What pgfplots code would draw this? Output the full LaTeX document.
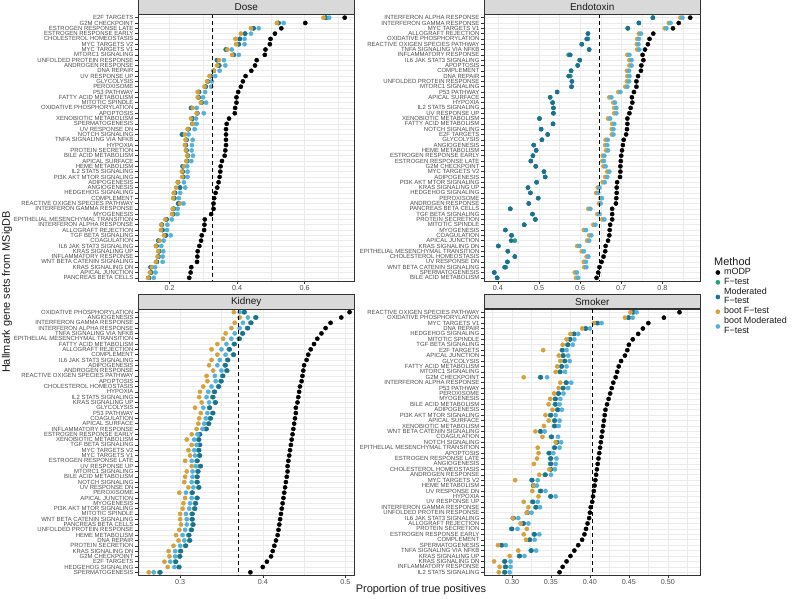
\documentclass[border=0pt]{standalone}
\usepackage{pgfplots}
\pgfplotsset{compat=1.18}
\usepackage{pgfplotstable}
\usepackage{fontspec}
\setmainfont{Liberation Sans}
\definecolor{cF}{HTML}{1E9E7A}
\definecolor{cM}{HTML}{1D6F93}
\definecolor{cBF}{HTML}{D6A03A}
\definecolor{cBM}{HTML}{52B1DB}
\definecolor{gridc}{HTML}{EBEBEB}
\definecolor{txt}{HTML}{4D4D4D}
\definecolor{bord}{HTML}{333333}
\definecolor{stripc}{HTML}{D9D9D9}

% columns: r = row (1 = top), modp = mODP, f = F-test, mod = Moderated F-test, bf = boot F-test, bm = boot Moderated F-test
\pgfplotstableread{
r modp f mod bf bm
1 0.719 0.663 0.664 0.656 0.673
2 0.602 0.522 0.523 0.518 0.538
3 0.531 0.448 0.449 0.441 0.464
4 0.512 0.423 0.424 0.411 0.441
5 0.499 0.407 0.408 0.395 0.422
6 0.497 0.404 0.405 0.397 0.422
7 0.484 0.366 0.367 0.371 0.384
8 0.482 0.389 0.390 0.385 0.405
9 0.458 0.340 0.341 0.346 0.361
10 0.453 0.346 0.347 0.341 0.365
11 0.442 0.330 0.331 0.331 0.348
12 0.425 0.321 0.322 0.318 0.335
13 0.417 0.312 0.313 0.311 0.325
14 0.411 0.306 0.307 0.303 0.323
15 0.403 0.286 0.287 0.283 0.305
16 0.398 0.285 0.286 0.283 0.299
17 0.398 0.294 0.295 0.292 0.308
18 0.394 0.263 0.264 0.268 0.280
19 0.393 0.281 0.282 0.280 0.301
20 0.376 0.267 0.268 0.263 0.278
21 0.369 0.267 0.268 0.268 0.280
22 0.367 0.255 0.256 0.253 0.274
23 0.367 0.236 0.237 0.245 0.256
24 0.367 0.249 0.250 0.247 0.268
25 0.367 0.247 0.248 0.245 0.266
26 0.365 0.249 0.250 0.248 0.265
27 0.363 0.253 0.254 0.252 0.269
28 0.355 0.251 0.252 0.249 0.264
29 0.351 0.238 0.239 0.242 0.252
30 0.350 0.238 0.239 0.236 0.253
31 0.348 0.240 0.241 0.237 0.253
32 0.345 0.224 0.225 0.224 0.242
33 0.341 0.230 0.231 0.219 0.246
34 0.336 0.215 0.216 0.212 0.231
35 0.332 0.213 0.214 0.210 0.227
36 0.330 0.225 0.226 0.231 0.241
37 0.330 0.211 0.212 0.209 0.224
38 0.323 0.210 0.211 0.207 0.223
39 0.304 0.190 0.191 0.187 0.206
40 0.303 0.176 0.177 0.175 0.193
41 0.302 0.178 0.179 0.174 0.192
42 0.295 0.188 0.189 0.183 0.203
43 0.293 0.166 0.167 0.170 0.182
44 0.288 0.160 0.161 0.159 0.175
45 0.283 0.168 0.169 0.166 0.181
46 0.282 0.166 0.167 0.164 0.179
47 0.281 0.161 0.162 0.159 0.179
48 0.264 0.143 0.144 0.147 0.157
49 0.262 0.144 0.145 0.141 0.158
50 0.258 0.138 0.139 0.136 0.153
}\dose

\pgfplotstableread{
r modp f mod bf bm
1 0.868 0.777 0.777 0.844 0.849
2 0.840 0.743 0.743 0.816 0.820
3 0.826 0.716 0.716 0.806 0.810
4 0.778 0.619 0.619 0.743 0.748
5 0.769 0.619 0.616 0.739 0.743
6 0.765 0.604 0.604 0.738 0.742
7 0.758 0.622 0.622 0.739 0.744
8 0.752 0.572 0.576 0.715 0.720
9 0.754 0.599 0.599 0.720 0.725
10 0.749 0.594 0.594 0.720 0.725
11 0.748 0.578 0.578 0.714 0.719
12 0.741 0.576 0.572 0.715 0.720
13 0.737 0.580 0.580 0.714 0.719
14 0.737 0.579 0.579 0.710 0.715
15 0.731 0.544 0.544 0.693 0.698
16 0.726 0.527 0.527 0.671 0.676
17 0.727 0.533 0.533 0.681 0.685
18 0.723 0.535 0.535 0.683 0.688
19 0.720 0.535 0.535 0.683 0.688
20 0.715 0.501 0.501 0.668 0.673
21 0.715 0.534 0.534 0.678 0.683
22 0.714 0.505 0.505 0.677 0.681
23 0.712 0.521 0.521 0.677 0.681
24 0.706 0.507 0.507 0.662 0.667
25 0.704 0.487 0.487 0.661 0.666
26 0.702 0.493 0.493 0.663 0.668
27 0.700 0.485 0.485 0.655 0.659
28 0.699 0.480 0.480 0.654 0.658
29 0.698 0.492 0.492 0.657 0.662
30 0.698 0.512 0.512 0.666 0.671
31 0.697 0.515 0.515 0.661 0.666
32 0.690 0.494 0.494 0.655 0.660
33 0.689 0.473 0.473 0.643 0.647
34 0.689 0.479 0.479 0.639 0.644
35 0.688 0.498 0.498 0.649 0.653
36 0.687 0.475 0.475 0.646 0.650
37 0.678 0.430 0.430 0.620 0.625
38 0.678 0.484 0.484 0.642 0.647
39 0.678 0.491 0.491 0.654 0.659
40 0.673 0.464 0.464 0.632 0.637
41 0.672 0.418 0.418 0.609 0.614
42 0.671 0.433 0.433 0.622 0.627
43 0.668 0.441 0.432 0.617 0.622
44 0.662 0.401 0.401 0.593 0.598
45 0.661 0.424 0.424 0.604 0.609
46 0.657 0.441 0.441 0.616 0.620
47 0.652 0.423 0.423 0.609 0.614
48 0.647 0.419 0.416 0.610 0.615
49 0.644 0.391 0.391 0.587 0.592
50 0.640 0.398 0.398 0.590 0.595
}\endo

\pgfplotstableread{
r modp f mod bf bm
1 0.505 0.377 0.378 0.365 0.372
2 0.495 0.391 0.392 0.372 0.382
3 0.482 0.385 0.386 0.366 0.376
4 0.476 0.381 0.382 0.362 0.372
5 0.471 0.375 0.376 0.355 0.366
6 0.466 0.371 0.372 0.352 0.362
7 0.462 0.365 0.366 0.345 0.356
8 0.458 0.359 0.360 0.338 0.350
9 0.455 0.364 0.365 0.345 0.355
10 0.453 0.357 0.358 0.338 0.348
11 0.450 0.354 0.355 0.335 0.345
12 0.449 0.356 0.357 0.340 0.350
13 0.448 0.351 0.352 0.332 0.342
14 0.447 0.349 0.350 0.333 0.343
15 0.445 0.346 0.347 0.328 0.338
16 0.444 0.341 0.342 0.324 0.334
17 0.443 0.339 0.340 0.323 0.332
18 0.442 0.342 0.343 0.326 0.335
19 0.440 0.335 0.336 0.318 0.328
20 0.440 0.339 0.340 0.325 0.333
21 0.439 0.336 0.337 0.323 0.331
22 0.438 0.334 0.335 0.322 0.329
23 0.437 0.331 0.332 0.320 0.327
24 0.436 0.323 0.324 0.314 0.321
25 0.435 0.322 0.323 0.308 0.317
26 0.434 0.323 0.324 0.314 0.320
27 0.433 0.322 0.323 0.310 0.317
28 0.432 0.323 0.324 0.312 0.318
29 0.431 0.320 0.321 0.306 0.314
30 0.430 0.324 0.325 0.314 0.319
31 0.430 0.321 0.322 0.308 0.315
32 0.429 0.320 0.321 0.306 0.315
33 0.428 0.320 0.321 0.305 0.314
34 0.427 0.322 0.323 0.310 0.316
35 0.426 0.314 0.315 0.299 0.307
36 0.425 0.320 0.321 0.306 0.314
37 0.424 0.318 0.319 0.304 0.312
38 0.423 0.317 0.318 0.303 0.311
39 0.422 0.314 0.315 0.300 0.307
40 0.421 0.314 0.315 0.300 0.308
41 0.420 0.315 0.316 0.301 0.308
42 0.419 0.313 0.314 0.299 0.306
43 0.418 0.310 0.311 0.295 0.303
44 0.416 0.311 0.312 0.298 0.305
45 0.414 0.306 0.307 0.292 0.300
46 0.412 0.300 0.301 0.286 0.294
47 0.410 0.299 0.300 0.287 0.294
48 0.405 0.294 0.295 0.281 0.288
49 0.400 0.298 0.299 0.285 0.293
50 0.385 0.275 0.276 0.262 0.268
}\kidney

\pgfplotstableread{
r modp f mod bf bm
1 0.515 0.455 0.456 0.452 0.460
2 0.495 0.449 0.450 0.445 0.455
3 0.475 0.409 0.410 0.405 0.415
4 0.468 0.394 0.395 0.390 0.400
5 0.462 0.379 0.380 0.375 0.385
6 0.455 0.374 0.375 0.370 0.380
7 0.450 0.371 0.372 0.365 0.378
8 0.448 0.364 0.365 0.340 0.370
9 0.445 0.365 0.366 0.360 0.372
10 0.440 0.367 0.368 0.362 0.374
11 0.437 0.363 0.364 0.358 0.370
12 0.435 0.361 0.362 0.356 0.368
13 0.433 0.336 0.337 0.315 0.345
14 0.430 0.369 0.370 0.362 0.376
15 0.428 0.365 0.366 0.360 0.372
16 0.426 0.359 0.360 0.354 0.366
17 0.424 0.355 0.356 0.349 0.362
18 0.422 0.355 0.356 0.347 0.361
19 0.420 0.358 0.359 0.352 0.364
20 0.419 0.349 0.350 0.343 0.356
21 0.418 0.354 0.355 0.347 0.361
22 0.417 0.354 0.355 0.341 0.360
23 0.416 0.336 0.337 0.330 0.342
24 0.415 0.350 0.351 0.339 0.359
25 0.414 0.357 0.358 0.356 0.363
26 0.413 0.354 0.355 0.333 0.361
27 0.412 0.347 0.348 0.334 0.353
28 0.411 0.349 0.350 0.332 0.357
29 0.410 0.349 0.350 0.328 0.356
30 0.409 0.349 0.350 0.348 0.355
31 0.408 0.342 0.343 0.335 0.350
32 0.407 0.325 0.326 0.304 0.333
33 0.406 0.327 0.328 0.328 0.332
34 0.405 0.336 0.337 0.326 0.343
35 0.404 0.349 0.350 0.334 0.356
36 0.403 0.326 0.327 0.315 0.333
37 0.401 0.330 0.331 0.321 0.336
38 0.400 0.319 0.320 0.319 0.325
39 0.399 0.301 0.302 0.301 0.308
40 0.397 0.314 0.315 0.311 0.321
41 0.395 0.299 0.300 0.319 0.307
42 0.393 0.328 0.329 0.315 0.335
43 0.390 0.322 0.323 0.318 0.329
44 0.385 0.286 0.287 0.282 0.292
45 0.380 0.324 0.325 0.308 0.331
46 0.375 0.309 0.310 0.297 0.316
47 0.370 0.290 0.291 0.277 0.298
48 0.365 0.291 0.292 0.284 0.298
49 0.361 0.290 0.291 0.283 0.297
}\smoker

\pgfplotsset{
  panel/.style={
    scale only axis, width=216.5bp, height=266.5bp, clip mode=individual,
    y dir=reverse, ymin=0.4, ymax=50.6, ytick={1,...,50},
    axis line style={bord, line width=0.5bp},
    tick style={bord, line width=0.5bp},
    major tick length=2.75bp, minor tick length=0pt,
    tick align=outside, xtick pos=left, ytick pos=left,
    xmajorgrids, xminorgrids, ymajorgrids,
    major grid style={gridc, line width=0.55bp},
    minor grid style={gridc, line width=0.3bp},
    yticklabel style={font=\fontsize{6}{6}\selectfont, text=txt, inner sep=0pt, xshift=-1.6bp},
    xticklabel style={font=\fontsize{7.2}{7.2}\selectfont, text=txt, inner sep=1bp, yshift=-0.5bp},
    /pgf/number format/assume math mode=true,
    legend image code/.code={\draw[mark repeat=2,mark phase=2,##1] plot coordinates {(0bp,0bp)(3bp,0bp)(6bp,0bp)};},
  },
  dots/.style={only marks, mark=*, mark size=2.1bp, color=#1, mark options={draw=none, fill=#1}},
  lowkey/.style={legend image code/.code={\draw[overlay,mark repeat=2,mark phase=2,##1] plot coordinates {(0bp,-4.9bp)(3bp,-4.9bp)(6bp,-4.9bp)}; \path (0bp,0bp) (6bp,0bp);}},
  vref/.style={black, line width=0.8bp, dash pattern=on 4bp off 3bp, forget plot},
}
\newcommand\strip[1]{\node[draw=bord, line width=0.5bp, fill=stripc, minimum width=216.5bp, minimum height=14.5bp, anchor=south, inner sep=0pt, font=\fontsize{10}{10}\selectfont, text={black!90}] at (axis description cs:0.5,1) {#1};}
\newcommand\panelplots[1]{%
  \addplot[dots=black] table[x=modp,y=r]{#1};
  \addplot[dots=cF] table[x=f,y=r]{#1};
  \addplot[dots=cM] table[x=mod,y=r]{#1};
  \addplot[dots=cBF] table[x=bf,y=r]{#1};
  \addplot[dots=cBM] table[x=bm,y=r]{#1};
}

\begin{document}
\begin{tikzpicture}
\useasboundingbox (0,0) rectangle (796bp,599bp);

% Dose
\begin{axis}[panel, at={(138bp,318bp)}, anchor=south west,
  xmin=0.106, xmax=0.748, xtick={0.2,0.4,0.6}, minor xtick={0.3,0.5,0.7},
  xticklabels={0.2,0.4,0.6},
  yticklabels={E2F TARGETS,G2M CHECKPOINT,ESTROGEN RESPONSE LATE,ESTROGEN RESPONSE EARLY,CHOLESTEROL HOMEOSTASIS,MYC TARGETS V2,MYC TARGETS V1,MTORC1 SIGNALING,UNFOLDED PROTEIN RESPONSE,ANDROGEN RESPONSE,DNA REPAIR,UV RESPONSE UP,GLYCOLYSIS,PEROXISOME,P53 PATHWAY,FATTY ACID METABOLISM,MITOTIC SPINDLE,OXIDATIVE PHOSPHORYLATION,APOPTOSIS,XENOBIOTIC METABOLISM,SPERMATOGENESIS,UV RESPONSE DN,NOTCH SIGNALING,TNFA SIGNALING VIA NFKB,HYPOXIA,PROTEIN SECRETION,BILE ACID METABOLISM,APICAL SURFACE,HEME METABOLISM,IL2 STAT5 SIGNALING,PI3K AKT MTOR SIGNALING,ADIPOGENESIS,ANGIOGENESIS,HEDGEHOG SIGNALING,COMPLEMENT,REACTIVE OXIGEN SPECIES PATHWAY,INTERFERON GAMMA RESPONSE,MYOGENESIS,EPITHELIAL MESENCHYMAL TRANSITION,INTERFERON ALPHA RESPONSE,ALLOGRAFT REJECTION,TGF BETA SIGNALING,COAGULATION,IL6 JAK STAT3 SIGNALING,KRAS SIGNALING UP,INFLAMMATORY RESPONSE,WNT BETA CATENIN SIGNALING,KRAS SIGNALING DN,APICAL JUNCTION,PANCREAS BETA CELLS}]
\panelplots{\dose}
\addplot[vref] coordinates {(0.326,0.4) (0.326,50.6)};
\strip{Dose}
\end{axis}

% Endotoxin
\begin{axis}[panel, at={(484bp,318bp)}, anchor=south west,
  xmin=0.366, xmax=0.893, xtick={0.4,0.5,0.6,0.7,0.8}, minor xtick={0.45,0.55,0.65,0.75,0.85},
  xticklabels={0.4,0.5,0.6,0.7,0.8},
  yticklabels={INTERFERON ALPHA RESPONSE,INTERFERON GAMMA RESPONSE,MYC TARGETS V1,ALLOGRAFT REJECTION,OXIDATIVE PHOSPHORYLATION,REACTIVE OXIGEN SPECIES PATHWAY,TNFA SIGNALING VIA NFKB,INFLAMMATORY RESPONSE,IL6 JAK STAT3 SIGNALING,APOPTOSIS,COMPLEMENT,DNA REPAIR,UNFOLDED PROTEIN RESPONSE,MTORC1 SIGNALING,P53 PATHWAY,APICAL SURFACE,HYPOXIA,IL2 STAT5 SIGNALING,UV RESPONSE UP,XENOBIOTIC METABOLISM,FATTY ACID METABOLISM,NOTCH SIGNALING,E2F TARGETS,GLYCOLYSIS,ANGIOGENESIS,HEME METABOLISM,ESTROGEN RESPONSE EARLY,ESTROGEN RESPONSE LATE,G2M CHECKPOINT,MYC TARGETS V2,ADIPOGENESIS,PI3K AKT MTOR SIGNALING,KRAS SIGNALING UP,HEDGEHOG SIGNALING,PEROXISOME,ANDROGEN RESPONSE,PANCREAS BETA CELLS,TGF BETA SIGNALING,PROTEIN SECRETION,MITOTIC SPINDLE,MYOGENESIS,COAGULATION,APICAL JUNCTION,KRAS SIGNALING DN,EPITHELIAL MESENCHYMAL TRANSITION,CHOLESTEROL HOMEOSTASIS,UV RESPONSE DN,WNT BETA CATENIN SIGNALING,SPERMATOGENESIS,BILE ACID METABOLISM}]
\panelplots{\endo}
\addplot[vref] coordinates {(0.648,0.4) (0.648,50.6)};
\strip{Endotoxin}
\end{axis}

% Kidney
\begin{axis}[panel, at={(138bp,23.5bp)}, anchor=south west,
  xmin=0.249, xmax=0.511, xtick={0.3,0.4,0.5}, minor xtick={0.25,0.35,0.45},
  xticklabels={0.3,0.4,0.5},
  yticklabels={OXIDATIVE PHOSPHORYLATION,ANGIOGENESIS,INTERFERON GAMMA RESPONSE,INTERFERON ALPHA RESPONSE,TNFA SIGNALING VIA NFKB,EPITHELIAL MESENCHYMAL TRANSITION,FATTY ACID METABOLISM,ALLOGRAFT REJECTION,COMPLEMENT,IL6 JAK STAT3 SIGNALING,ADIPOGENESIS,ANDROGEN RESPONSE,REACTIVE OXIGEN SPECIES PATHWAY,APOPTOSIS,CHOLESTEROL HOMEOSTASIS,HYPOXIA,IL2 STAT5 SIGNALING,KRAS SIGNALING UP,GLYCOLYSIS,P53 PATHWAY,COAGULATION,APICAL SURFACE,INFLAMMATORY RESPONSE,ESTROGEN RESPONSE EARLY,XENOBIOTIC METABOLISM,TGF BETA SIGNALING,MYC TARGETS V2,MYC TARGETS V1,ESTROGEN RESPONSE LATE,UV RESPONSE UP,MTORC1 SIGNALING,BILE ACID METABOLISM,NOTCH SIGNALING,UV RESPONSE DN,PEROXISOME,APICAL JUNCTION,MYOGENESIS,PI3K AKT MTOR SIGNALING,MITOTIC SPINDLE,WNT BETA CATENIN SIGNALING,PANCREAS BETA CELLS,UNFOLDED PROTEIN RESPONSE,HEME METABOLISM,DNA REPAIR,PROTEIN SECRETION,KRAS SIGNALING DN,G2M CHECKPOINT,E2F TARGETS,HEDGEHOG SIGNALING,SPERMATOGENESIS}]
\panelplots{\kidney}
\addplot[vref] coordinates {(0.370,0.4) (0.370,50.6)};
\strip{Kidney}
\end{axis}

% Smoker
\begin{axis}[panel, at={(484bp,23.5bp)}, anchor=south west,
  ymax=49.6, ytick={1,...,49},
  xmin=0.264, xmax=0.542, xtick={0.30,0.35,0.40,0.45,0.50}, minor xtick={0.275,0.325,0.375,0.425,0.475,0.525},
  xticklabels={0.30,0.35,0.40,0.45,0.50},
  yticklabels={REACTIVE OXIGEN SPECIES PATHWAY,OXIDATIVE PHOSPHORYLATION,MYC TARGETS V1,DNA REPAIR,HEDGEHOG SIGNALING,MITOTIC SPINDLE,TGF BETA SIGNALING,E2F TARGETS,APICAL JUNCTION,GLYCOLYSIS,FATTY ACID METABOLISM,MTORC1 SIGNALING,G2M CHECKPOINT,INTERFERON ALPHA RESPONSE,P53 PATHWAY,PEROXISOME,MYOGENESIS,BILE ACID METABOLISM,ADIPOGENESIS,PI3K AKT MTOR SIGNALING,APICAL SURFACE,XENOBIOTIC METABOLISM,WNT BETA CATENIN SIGNALING,COAGULATION,NOTCH SIGNALING,EPITHELIAL MESENCHYMAL TRANSITION,APOPTOSIS,ESTROGEN RESPONSE LATE,ANGIOGENESIS,CHOLESTEROL HOMEOSTASIS,ANDROGEN RESPONSE,MYC TARGETS V2,HEME METABOLISM,UV RESPONSE DN,HYPOXIA,UV RESPONSE UP,INTERFERON GAMMA RESPONSE,UNFOLDED PROTEIN RESPONSE,IL6 JAK STAT3 SIGNALING,ALLOGRAFT REJECTION,PROTEIN SECRETION,ESTROGEN RESPONSE EARLY,COMPLEMENT,SPERMATOGENESIS,TNFA SIGNALING VIA NFKB,KRAS SIGNALING UP,KRAS SIGNALING DN,INFLAMMATORY RESPONSE,IL2 STAT5 SIGNALING},
  legend style={at={(1.0645,1.156)}, anchor=north west, draw=none, fill=none,
    font=\fontsize{9}{9.7}\selectfont, row sep=0bp, inner sep=0pt,
    nodes={inner sep=0pt, text height=6.9bp, text depth=2.9bp, text={black!90}}, column sep=3bp},
  legend cell align=left]
\addplot[dots=black] table[x=modp,y=r]{\smoker}; \addlegendentry{mODP}
\addplot[dots=cF] table[x=f,y=r]{\smoker}; \addlegendentry{F−test}
\addplot[dots=cM, lowkey] table[x=mod,y=r]{\smoker}; \addlegendentry{Moderated}
\addlegendimage{empty legend} \addlegendentry{F−test}
\addplot[dots=cBF] table[x=bf,y=r]{\smoker}; \addlegendentry{boot F−test}
\addplot[dots=cBM, lowkey] table[x=bm,y=r]{\smoker}; \addlegendentry{boot Moderated}
\addlegendimage{empty legend} \addlegendentry{F−test}
\addplot[vref] coordinates {(0.403,0.4) (0.403,49.6)};
\strip{Smoker}
\end{axis}

\node[anchor=west, font=\fontsize{11}{11}\selectfont, text={black!90}, inner sep=0pt] at (714bp,337bp) {Method};
\node[rotate=90, font=\fontsize{11}{11}\selectfont, text={black!90}, inner sep=0pt] at (7bp,307bp) {Hallmark gene sets from MSigDB};
\node[font=\fontsize{11}{11}\selectfont, text={black!90}, inner sep=0pt] at (421bp,9bp) {Proportion of true positives};
\end{tikzpicture}
\end{document}
